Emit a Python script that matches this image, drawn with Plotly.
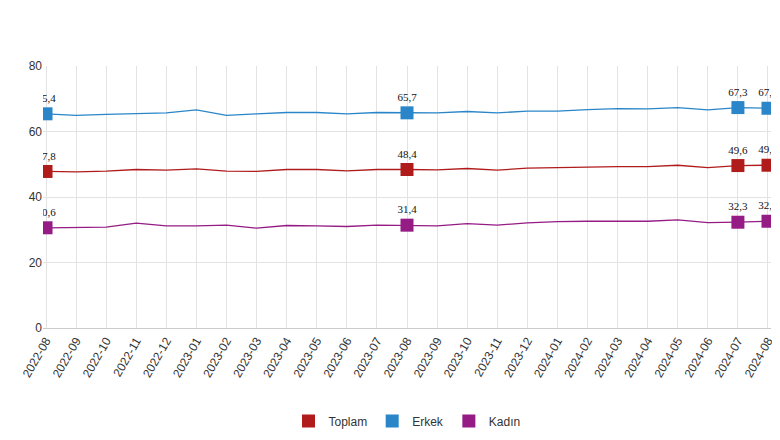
import plotly.graph_objects as go

months = ["2022-08", "2022-09", "2022-10", "2022-11", "2022-12", "2023-01", "2023-02", "2023-03",
          "2023-04", "2023-05", "2023-06", "2023-07", "2023-08", "2023-09", "2023-10", "2023-11",
          "2023-12", "2024-01", "2024-02", "2024-03", "2024-04", "2024-05", "2024-06", "2024-07", "2024-08"]

toplam = [47.8, 47.7, 47.9, 48.4, 48.2, 48.6, 47.9, 47.8, 48.4, 48.4, 48.0, 48.4, 48.4,
          48.3, 48.7, 48.2, 48.8, 49.0, 49.3, 49.3, 49.3, 49.7, 49.0, 49.6, 49.7]
erkek = [65.4, 64.9, 65.2, 65.4, 65.7, 66.6, 64.9, 65.4, 65.8, 65.8, 65.4, 65.8, 65.7,
         65.7, 66.1, 65.7, 66.2, 66.2, 66.7, 67.0, 66.9, 67.3, 66.6, 67.3, 67.1]
kadin = [30.6, 30.7, 30.8, 32.0, 31.2, 31.2, 31.4, 30.5, 31.3, 31.2, 31.0, 31.4, 31.4,
         31.2, 31.9, 31.4, 32.1, 32.5, 32.6, 32.6, 32.6, 33.0, 32.2, 32.3, 32.6]

labelled = [0, 12, 23, 24]

series = [("Toplam", toplam, "#b01c1c"), ("Erkek", erkek, "#2a86c8"), ("Kadın", kadin, "#951b85")]

fig = go.Figure()
for name, vals, color in series:
    # thin line through all months
    fig.add_trace(go.Scatter(x=months, y=vals, mode="lines", line=dict(color=color, width=1.3),
                             showlegend=False, hoverinfo="skip"))
    # square markers with labels on the highlighted months
    fig.add_trace(go.Scatter(
        x=[months[i] for i in labelled], y=[vals[i] for i in labelled],
        mode="markers+text", name=name,
        marker=dict(symbol="square", size=13, color=color),
        text=[f"{vals[i]:.1f}".replace(".", ",") for i in labelled],
        textposition="top center", textfont=dict(size=11, color="#111", family="Arial Black"),
    ))

fig.update_layout(
    width=780, height=440,
    margin=dict(l=32, r=13, t=58, b=105),
    plot_bgcolor="white", paper_bgcolor="white",
    font=dict(family="Arial", size=12, color="#333"),
    legend=dict(orientation="h", x=0.5, xanchor="center", y=-0.3, yanchor="top",
                font=dict(size=12), itemwidth=30),
    xaxis=dict(type="category", tickangle=-60, showgrid=True, gridcolor="#e3e3e3",
               linecolor="#ccc", range=[-0.1, 24.1], ticks=""),
    yaxis=dict(range=[0, 80], dtick=20, gridcolor="#e3e3e3", zeroline=False, ticks=""),
)

fig.write_html("out.html")
